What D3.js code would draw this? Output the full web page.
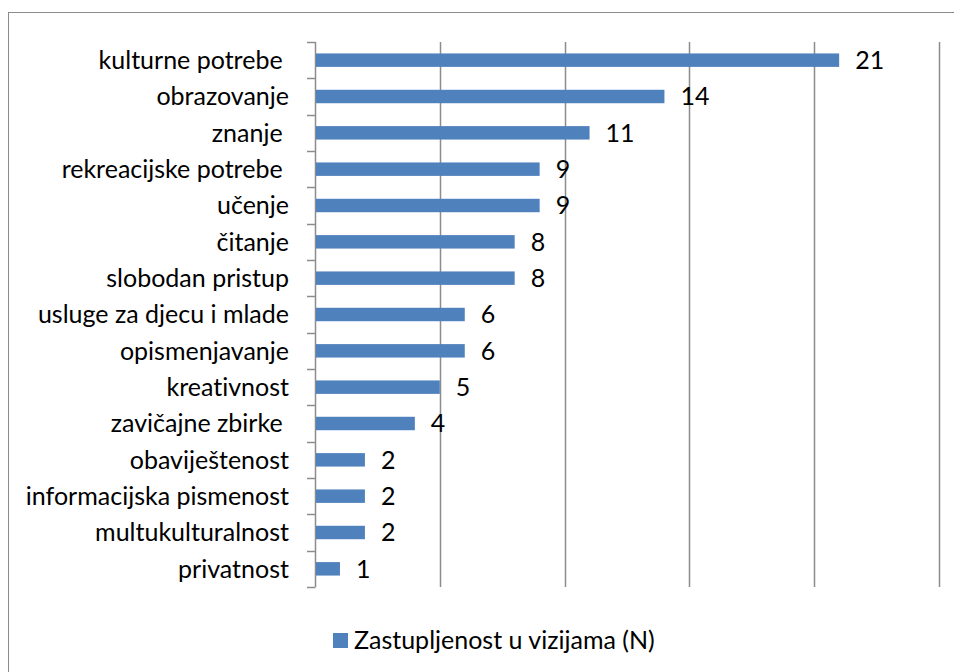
<!DOCTYPE html>
<html>
<head>
<meta charset="utf-8">
<script src="https://cdn.jsdelivr.net/npm/d3@7"></script>
<style>
  body { margin: 0; background: #fff; }
  text { font-family: Lato, "Open Sans", sans-serif; fill: #000; font-variant-ligatures: none; }
</style>
</head>
<body>
<svg id="chart" width="954" height="672"></svg>
<script>
const categories = [
  'kulturne potrebe ', 'obrazovanje', 'znanje ', 'rekreacijske potrebe ', 'učenje',
  'čitanje', 'slobodan pristup', 'usluge za djecu i mlade', 'opismenjavanje', 'kreativnost',
  'zavičajne zbirke ', 'obaviještenost', 'informacijska pismenost', 'multukulturalnost', 'privatnost'
];
const values = [21, 14, 11, 9, 9, 8, 8, 6, 6, 5, 4, 2, 2, 2, 1];
const xTicks = [0, 5, 10, 15, 20, 25];
const seriesName = 'Zastupljenost u vizijama (N)';

const color = '#4F81BD';
const gridColor = '#8c8c8c';
const fontSize = 25;

const svg = d3.select('#chart');

// outer chart frame (runs off the right and bottom edge)
svg.append('rect')
  .attr('x', 8.5).attr('y', 12.5)
  .attr('width', 960).attr('height', 700)
  .attr('fill', 'none')
  .attr('stroke', gridColor)
  .attr('stroke-width', 1);

const plotLeft = 315, plotRight = 939, plotTop = 42, plotBottom = 587;

const x = d3.scaleLinear().domain([0, 25]).range([plotLeft, plotRight]);
const y = d3.scaleBand().domain(categories).range([plotTop, plotBottom]).paddingInner(0.63).paddingOuter(0.315);
const band = d3.scaleBand().domain(categories).range([plotTop, plotBottom]);

// vertical gridlines
svg.append('g')
  .selectAll('line')
  .data(xTicks.slice(1))
  .enter()
  .append('line')
  .attr('x1', d => Math.round(x(d)) + 0.5)
  .attr('x2', d => Math.round(x(d)) + 0.5)
  .attr('y1', plotTop)
  .attr('y2', plotBottom)
  .attr('stroke', gridColor)
  .attr('stroke-width', 1.5);

// category axis with ticks between categories
const axis = svg.append('g');
axis.append('line')
  .attr('x1', plotLeft + 0.5).attr('x2', plotLeft + 0.5)
  .attr('y1', plotTop).attr('y2', plotBottom)
  .attr('stroke', gridColor).attr('stroke-width', 1.5);

const boundaries = categories.map(c => band(c)).concat([plotBottom]);
axis.selectAll('line.tick')
  .data(boundaries)
  .enter()
  .append('line')
  .attr('class', 'tick')
  .attr('x1', plotLeft - 8).attr('x2', plotLeft + 0.5)
  .attr('y1', d => Math.round(d) + 0.5)
  .attr('y2', d => Math.round(d) + 0.5)
  .attr('stroke', gridColor).attr('stroke-width', 1.5);

axis.selectAll('text')
  .data(categories)
  .enter()
  .append('text')
  .attr('x', 289)
  .attr('y', d => band(d) + band.bandwidth() / 2)
  .attr('dy', '0.35em')
  .attr('text-anchor', 'end')
  .attr('font-size', fontSize)
  .style('white-space', 'pre')
  .text(d => d);

// bars
svg.append('g')
  .selectAll('rect')
  .data(values)
  .enter()
  .append('rect')
  .attr('x', plotLeft + 1)
  .attr('y', (d, i) => y(categories[i]))
  .attr('width', d => x(d) - plotLeft - 1)
  .attr('height', y.bandwidth())
  .attr('fill', color);

// value labels
svg.append('g')
  .selectAll('text')
  .data(values)
  .enter()
  .append('text')
  .attr('x', d => x(d) + 16)
  .attr('y', (d, i) => band(categories[i]) + band.bandwidth() / 2)
  .attr('dy', '0.35em')
  .attr('font-size', fontSize)
  .text(d => d);

// legend
const legend = svg.append('g');
legend.append('rect')
  .attr('x', 333).attr('y', 633)
  .attr('width', 15).attr('height', 15)
  .attr('fill', color);
legend.append('text')
  .attr('x', 354).attr('y', 649)
  .attr('font-size', fontSize)
  .text(seriesName);
</script>
</body>
</html>
